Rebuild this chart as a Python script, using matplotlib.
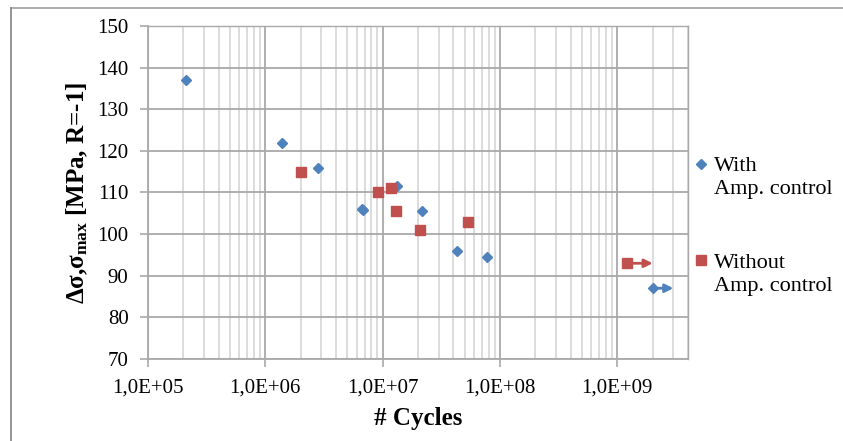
import numpy as np
import matplotlib
matplotlib.use("Agg")
import matplotlib.pyplot as plt
from matplotlib.ticker import FixedLocator, LogLocator, NullFormatter
from matplotlib.lines import Line2D

plt.rcParams['font.family'] = ['Liberation Serif', 'DejaVu Serif']
plt.rcParams['mathtext.fontset'] = 'custom'
plt.rcParams['mathtext.rm'] = 'Liberation Serif'
plt.rcParams['mathtext.bf'] = 'Liberation Serif:bold'
plt.rcParams['mathtext.it'] = 'Liberation Serif:italic'

# ---- data ----
with_cycles = [2.1e5, 1.4e6, 2.8e6, 6.6e6, 6.8e6, 1.32e7, 2.15e7, 4.3e7, 7.8e7, 2.03e9]
with_stress = [137.0, 122.0, 116.0, 106.1, 105.9, 111.6, 105.6, 96.0, 94.5, 87.0]
without_cycles = [2.0e6, 9.2e6, 1.18e7, 1.31e7, 2.1e7, 5.35e7, 1.2e9]
without_stress = [115.0, 110.2, 111.0, 105.6, 101.0, 102.8, 93.0]

# run-outs (start point and arrow end)
with_runout_start = [2.03e9]
with_runout_end = [3.0e9]
with_runout_stress = [87.0]
without_runout_start = [1.2e9]
without_runout_end = [2.0e9]
without_runout_stress = [93.0]

x_ticks = [1e5, 1e6, 1e7, 1e8, 1e9]
x_tick_labels = ['1,0E+05', '1,0E+06', '1,0E+07', '1,0E+08', '1,0E+09']
y_ticks = [70, 80, 90, 100, 110, 120, 130, 140, 150]

series_labels = ['With\nAmp. control', 'Without\nAmp. control']
blue = '#4F81BD'
red = '#C0504D'

# ---- figure ----
W, H = 843, 441
fig = plt.figure(figsize=(W / 100, H / 100), dpi=100)
ax = fig.add_axes([148 / W, 1 - 359 / H, 540 / W, 333 / H])

ax.set_xscale('log')
ax.set_xlim(1e5, 4e9)
ax.set_ylim(70, 150)

major_grid = '#A9A9A9'
minor_grid = '#D9D9D9'

ax.xaxis.set_major_locator(FixedLocator(x_ticks))
ax.set_xticks(x_ticks)
ax.set_xticklabels(x_tick_labels)
ax.xaxis.set_minor_locator(LogLocator(base=10, subs=np.arange(2, 10), numticks=20))
ax.xaxis.set_minor_formatter(NullFormatter())
ax.set_yticks(y_ticks)

ax.grid(True, which='major', axis='both', color=major_grid, lw=1.3, zorder=0)
ax.grid(True, which='minor', axis='x', color=minor_grid, lw=1.3, zorder=0)
ax.set_axisbelow(True)

for s in ['left', 'bottom']:
    ax.spines[s].set_color(major_grid)
    ax.spines[s].set_linewidth(1.3)
for s in ['top', 'right']:
    ax.spines[s].set_color(major_grid)
    ax.spines[s].set_linewidth(1.0)

ax.tick_params(axis='both', which='major', direction='out', length=6,
               width=1.2, color=major_grid, labelsize=15, labelcolor='black')
ax.tick_params(axis='y', pad=8)
ax.tick_params(axis='x', pad=8)
ax.tick_params(axis='x', which='minor', length=0)

# data
ax.plot(with_cycles, with_stress, linestyle='none', marker='D', ms=5.6,
        color=blue, mec=blue, zorder=3, clip_on=False)
ax.plot(without_cycles, without_stress, linestyle='none', marker='s', ms=7.2,
        color=red, mec=red, zorder=4, clip_on=False)

for xs, xe, yv in zip(with_runout_start, with_runout_end, with_runout_stress):
    ax.annotate('', xy=(xe, yv), xytext=(xs, yv),
                arrowprops=dict(arrowstyle='-|>', color=blue, lw=2.0,
                                mutation_scale=12, shrinkA=0, shrinkB=0),
                zorder=2, annotation_clip=False)
for xs, xe, yv in zip(without_runout_start, without_runout_end, without_runout_stress):
    ax.annotate('', xy=(xe, yv), xytext=(xs, yv),
                arrowprops=dict(arrowstyle='-|>', color=red, lw=2.0,
                                mutation_scale=12, shrinkA=0, shrinkB=0),
                zorder=2, annotation_clip=False)

# axis titles
ax.set_xlabel('# Cycles', fontsize=18, fontweight='bold')
ax.xaxis.set_label_coords(0.5, -0.18)
ax.xaxis.label.set_va('center')
ax.set_ylabel('Δσ,σ$_{\\mathbf{max}}$ [MPa, R=-1]', fontsize=18, fontweight='bold')
ax.yaxis.set_label_coords(-0.131, 0.5)
ax.yaxis.label.set_va('center')

# legend (Excel style: marker beside first line)
leg_font = 16
fig.add_artist(Line2D([701 / W], [1 - 164 / H], marker='D', ms=5.0, color=blue,
                      linestyle='none', transform=fig.transFigure))
fig.text(714 / W, 1 - 157 / H, series_labels[0], fontsize=leg_font,
         va='top', ha='left', linespacing=1.32)
fig.add_artist(Line2D([701 / W], [1 - 260 / H], marker='s', ms=7.0, color=red,
                      linestyle='none', transform=fig.transFigure))
fig.text(714 / W, 1 - 254 / H, series_labels[1], fontsize=leg_font,
         va='top', ha='left', linespacing=1.32)

# outer chart frame (top and left visible)
fig.add_artist(Line2D([10.5 / W, 1.0], [1 - 7.5 / H, 1 - 7.5 / H],
                      color='#A6A6A6', lw=1.3, transform=fig.transFigure))
fig.add_artist(Line2D([10.5 / W, 10.5 / W], [0.0, 1 - 7.5 / H],
                      color='#8C8C8C', lw=1.3, transform=fig.transFigure))

fig.savefig('out.png', dpi=100)
